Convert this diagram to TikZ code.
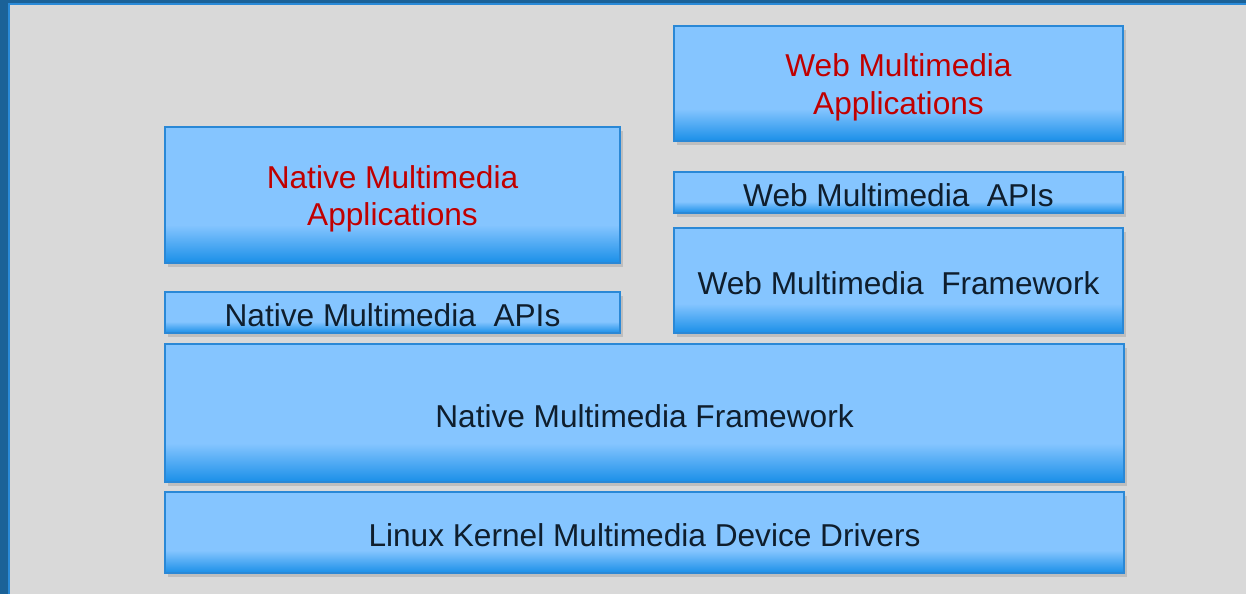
\documentclass[tikz,border=0pt]{standalone}
\usepackage{fontspec}
\setmainfont{Liberation Sans}
\usepackage{tikz}
\usepackage{xcolor}
\usetikzlibrary{shadows}

\definecolor{boxlight}{HTML}{85C5FF}
\definecolor{boxdark}{HTML}{1A8FE8}
\definecolor{boxline}{HTML}{2A88D6}
\definecolor{bggray}{HTML}{D9D9D9}
\definecolor{framedark}{HTML}{1B6298}
\definecolor{framelight}{HTML}{2A8AD8}
\definecolor{labeltext}{HTML}{0F1E2D}
\definecolor{labelred}{HTML}{C00000}

\pgfdeclareverticalshading{boxshade}{100bp}{color(0bp)=(boxdark); color(25bp)=(boxdark); color(39bp)=(boxlight); color(100bp)=(boxlight)}

\begin{document}
\begin{tikzpicture}[layer/.style={rectangle, draw=boxline, line width=1.1pt, shading=boxshade,
                        drop shadow={shadow xshift=1.8pt, shadow yshift=-2pt, opacity=0.3},
                        inner sep=0pt, align=center, text=labeltext, text height=16.5pt,
                        font=\fontsize{18}{21.5}\selectfont},
                    app/.style={layer, text=labelred, text height=39pt, text depth=3.8pt}]
                    \useasboundingbox (0,0) rectangle (24.92,11.88);
                    \fill[framedark] (0,0) rectangle (24.92,11.88);
                    \fill[framelight] (0.16,0) rectangle (24.92,11.82);
                    \fill[bggray] (0.2,0) rectangle (24.92,11.78);

                    \node[app, minimum width=8.98cm, minimum height=2.30cm] (webapps) at (17.97,10.21) {Web Multimedia\\Applications};
                    \node[layer, minimum width=8.98cm, minimum height=0.82cm] (webapis) at (17.97,8.03) {Web Multimedia\ \ APIs};
                    \node[layer, minimum width=8.98cm, minimum height=2.10cm] (webfw) at (17.97,6.27) {Web Multimedia\ \ Framework};
                    \node[app, minimum width=9.10cm, minimum height=2.72cm] (nativeapps) at (7.85,7.98) {Native Multimedia\\Applications};
                    \node[layer, minimum width=9.10cm, minimum height=0.82cm] (nativeapis) at (7.85,5.63) {Native Multimedia\ \ APIs};
                    \node[layer, minimum width=19.18cm, minimum height=2.76cm] (nativefw) at (12.89,3.62) {Native Multimedia Framework};
                    \node[layer, minimum width=19.18cm, minimum height=1.62cm] (kernel) at (12.89,1.23) {Linux Kernel Multimedia Device Drivers};
                \end{tikzpicture}
\end{document}
